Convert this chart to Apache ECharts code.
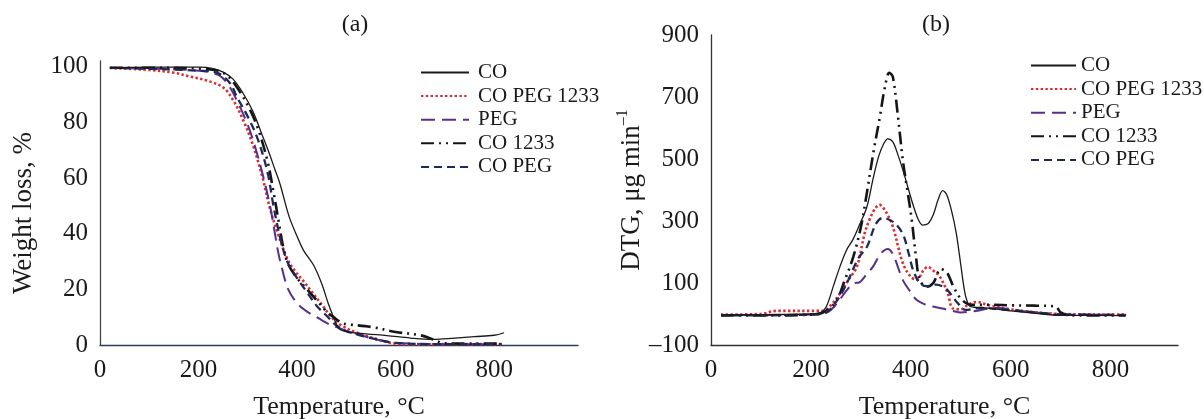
<!DOCTYPE html>
<html>
<head>
<meta charset="utf-8">
<script src="https://cdn.jsdelivr.net/npm/echarts@6/dist/echarts.min.js"></script>
<style>
html,body{margin:0;padding:0;background:#fff;}
#chart{width:1204px;height:419px;}
</style>
</head>
<body>
<div id="chart"></div>
<script>
// ---- Data (temperature °C, value) ----
const seriesNames = ['CO', 'CO PEG 1233', 'PEG', 'CO 1233', 'CO PEG'];
const xTicksLabels = [0, 200, 400, 600, 800];

// (a) TGA: weight loss, %
const tgaCO = [[20,99.6],[100,99.8],[200,99.8],[230,99.3],[250,98],[270,95.5],[290,90.5],[310,84],[330,75],[341,70],[355,63],[365,58],[384,46],[400,39],[413,34],[433,28.8],[450,22],[463,15],[474,10],[484,6],[500,4.8],[540,4],[582,3.4],[630,2.5],[676,2],[720,2.5],[760,3],[800,3.5],[820,4.4]];
const tgaCOPEG1233 = [[20,99.5],[100,98.8],[150,97.8],[183,96.4],[220,94.8],[250,92.5],[270,88],[290,81],[310,72],[330,60],[345,49],[361,40],[380,31],[398,26],[415,22.5],[428,19.5],[450,14.5],[470,10],[490,7],[520,4.5],[560,2.2],[600,0.5],[650,0.2],[700,0.3],[800,0.3],[815,0.3]];
const tgaPEG = [[20,99.5],[100,99.3],[200,98.5],[240,97],[260,93.5],[280,87],[300,79],[315,71],[332,60],[345,50],[355,40],[362,33],[370,27],[382,20],[400,15],[420,12],[440,10],[453,8.6],[470,7],[484,6.2],[500,5],[530,3.5],[560,2],[600,0.8],[700,0.3],[800,0.3],[815,0.3]];
const tgaCO1233 = [[20,99.6],[100,99.6],[200,99.3],[240,98.5],[260,96.5],[280,92],[300,86],[320,78],[340,66],[352,55],[362,45],[372,35],[382,29],[400,24],[420,20],[440,16],[460,12],[474,10],[490,8],[500,7.5],[550,6.5],[600,4.7],[650,3.5],[676,2],[690,1],[700,0.6],[750,0.5],[815,0.5]];
const tgaCOPEG = [[20,99.5],[100,99.2],[200,98.5],[237,97.8],[264,94],[278,89],[300,82],[320,74],[340,62],[352,50],[365,39],[380,30],[400,24],[420,19],[440,14],[460,10.5],[480,7],[500,5],[550,2.5],[600,0.8],[700,0.3],[815,0.3]];

// (b) DTG, µg/min
const dtgCO = [[20,-3],[100,-2],[200,0],[220,5],[231,24],[245,90],[258,152],[271,205],[284,240],[298,290],[312,345],[325,440],[336,510],[346,550],[354,565],[364,555],[375,510],[385,460],[394,410],[405,350],[415,305],[424,287],[435,292],[445,320],[455,370],[464,398],[472,385],[482,330],[491,261],[500,160],[507,80],[512,45],[520,24],[550,20],[600,10],[650,2],[700,-4],[830,-5]];
const dtgCOPEG1233 = [[20,-2],[100,0],[130,10],[220,10],[235,20],[260,70],[275,110],[292,152],[312,282],[338,352],[350,330],[364,282],[384,164],[400,120],[412,110],[425,140],[434,152],[445,140],[458,121],[474,67],[484,18],[500,15],[515,30],[532,39],[552,30],[600,15],[650,5],[700,0],[832,-2]];
const dtgPEG = [[20,-3],[100,-3],[200,-2],[232,5],[250,30],[272,77],[285,98],[298,103],[310,125],[324,152],[340,195],[354,210],[365,190],[384,110],[400,70],[412,45],[430,30],[444,24],[470,15],[484,10],[500,5],[530,10],[570,20],[600,15],[650,5],[700,0],[830,-3]];
const dtgCO1233 = [[20,-5],[100,-5],[200,-2],[225,5],[250,40],[268,110],[285,185],[300,280],[312,390],[325,520],[338,635],[348,730],[357,778],[364,765],[374,642],[384,497],[394,390],[402,303],[410,190],[418,110],[432,88],[445,100],[460,145],[472,135],[485,90],[500,50],[520,30],[560,30],[600,28],[650,27],[690,24],[700,5],[720,-5],[830,-5]];
const dtgCOPEG = [[20,-4],[100,-4],[200,-2],[230,5],[255,50],[275,110],[295,180],[312,216],[330,290],[344,310],[356,305],[370,290],[385,255],[395,200],[405,140],[418,100],[432,90],[450,95],[468,85],[482,60],[494,35],[510,13],[540,20],[580,15],[650,5],[700,-3],[830,-3]];

// ---- Styles ----
const FONT = 'Liberation Serif';
const TXT = '#1a1a1a';
const styles = {
  'CO':          {color:'#1a1a1a', width:1.3, type:'solid'},
  'CO PEG 1233': {color:'#e0282e', width:2.6, type:[2.4,2.4]},
  'PEG':         {color:'#55308d', width:2,   type:[14,7]},
  'CO 1233':     {color:'#151515', width:2.6, type:[13,5,2,5,2,5]},
  'CO PEG':      {color:'#1f2a55', width:2.3, type:[8,5]}
};
const tgaData = {'CO':tgaCO,'CO PEG 1233':tgaCOPEG1233,'PEG':tgaPEG,'CO 1233':tgaCO1233,'CO PEG':tgaCOPEG};
const dtgData = {'CO':dtgCO,'CO PEG 1233':dtgCOPEG1233,'PEG':dtgPEG,'CO 1233':dtgCO1233,'CO PEG':dtgCOPEG};

function mkSeries(dataMap, idx){
  return seriesNames.map(n => ({
    name: n, type:'line', xAxisIndex: idx, yAxisIndex: idx,
    data: dataMap[n], showSymbol:false, symbol:'none', smooth:0.35,
    lineStyle:{color:styles[n].color, width:styles[n].width, type:styles[n].type},
    itemStyle:{color:styles[n].color}, z: n==='CO' ? 5 : 3, animation:false
  }));
}

const axisLabelBase = {fontFamily:FONT, fontSize:25, color:TXT};
const xLabelFmt = v => (xTicksLabels.indexOf(v) >= 0 ? String(v) : '');
const legendItemStyle = {color:'rgba(0,0,0,0)', borderWidth:0, opacity:0};

const option = {
  animation:false,
  textStyle:{fontFamily:FONT},
  title:[
    {text:'(a)', left:350, top:20, textAlign:'center', textVerticalAlign:'middle',
     textStyle:{fontFamily:FONT, fontSize:24, fontWeight:'normal', color:TXT}},
    {text:'(b)', left:931, top:20, textAlign:'center', textVerticalAlign:'middle',
     textStyle:{fontFamily:FONT, fontSize:24, fontWeight:'normal', color:TXT}}
  ],
  legend:[
    {data:seriesNames, orient:'vertical', left:420, top:62, padding:0, itemWidth:48, itemHeight:12, itemGap:2.6,
     itemStyle:legendItemStyle,
     textStyle:{fontFamily:FONT, fontSize:21, color:TXT, lineHeight:21, padding:[0,0,0,4]}, selectedMode:false},
    {data:seriesNames, orient:'vertical', left:1030, top:55, padding:0, itemWidth:45, itemHeight:12, itemGap:2.6,
     itemStyle:legendItemStyle,
     textStyle:{fontFamily:FONT, fontSize:21, color:TXT, lineHeight:21}, selectedMode:false}
  ],
  grid:[
    {left:100, top:61, width:478, height:284, outerBoundsMode:'none', containLabel:false},
    {left:711, top:35, width:467, height:310, outerBoundsMode:'none', containLabel:false}
  ],
  xAxis:[
    {type:'value', gridIndex:0, min:0, max:970, interval:200,
     name:'Temperature, °C', nameLocation:'middle', nameGap:49,
     nameTextStyle:{fontFamily:FONT, fontSize:26, color:TXT},
     axisLine:{show:true, onZero:false, lineStyle:{color:'#2e3a5a', width:1.3}}, axisTick:{show:false},
     splitLine:{show:false}, axisLabel:Object.assign({margin:13, formatter:xLabelFmt}, axisLabelBase)},
    {type:'value', gridIndex:1, min:0, max:935, interval:200,
     name:'Temperature, °C', nameLocation:'middle', nameGap:49,
     nameTextStyle:{fontFamily:FONT, fontSize:26, color:TXT},
     axisLine:{show:true, onZero:false, lineStyle:{color:'#333', width:1.3}}, axisTick:{show:false},
     splitLine:{show:false}, axisLabel:Object.assign({margin:13, formatter:xLabelFmt}, axisLabelBase)}
  ],
  yAxis:[
    {type:'value', gridIndex:0, min:0, max:102, interval:20,
     name:'Weight loss, %', nameLocation:'middle', nameGap:63,
     nameTextStyle:{fontFamily:FONT, fontSize:27, color:TXT, padding:[0,20,0,0]},
     axisLine:{show:true, onZero:false, lineStyle:{color:'#444', width:1.3}}, axisTick:{show:false},
     splitLine:{show:false}, axisLabel:Object.assign({margin:12, formatter:v => (v % 20 === 0 && v <= 100) ? String(v) : ''}, axisLabelBase)},
    {type:'value', gridIndex:1, min:-100, max:900, interval:200,
     name:'{a|DTG, μg min}{s|–1}', nameLocation:'middle', nameGap:62,
     nameTextStyle:{rich:{
        a:{fontFamily:FONT, fontSize:27, color:TXT, lineHeight:30, verticalAlign:'bottom'},
        s:{fontFamily:FONT, fontSize:16, color:TXT, lineHeight:16, verticalAlign:'top'}}},
     axisLine:{show:true, onZero:false, lineStyle:{color:'#333', width:1.3}}, axisTick:{show:false},
     splitLine:{show:false}, axisLabel:Object.assign({margin:12, formatter:v => String(v).replace('-', '–')}, axisLabelBase)}
  ],
  series: mkSeries(tgaData, 0).concat(mkSeries(dtgData, 1))
};

const chart = echarts.init(document.getElementById('chart'), null, {renderer:'canvas'});
chart.setOption(option);
</script>
</body>
</html>
